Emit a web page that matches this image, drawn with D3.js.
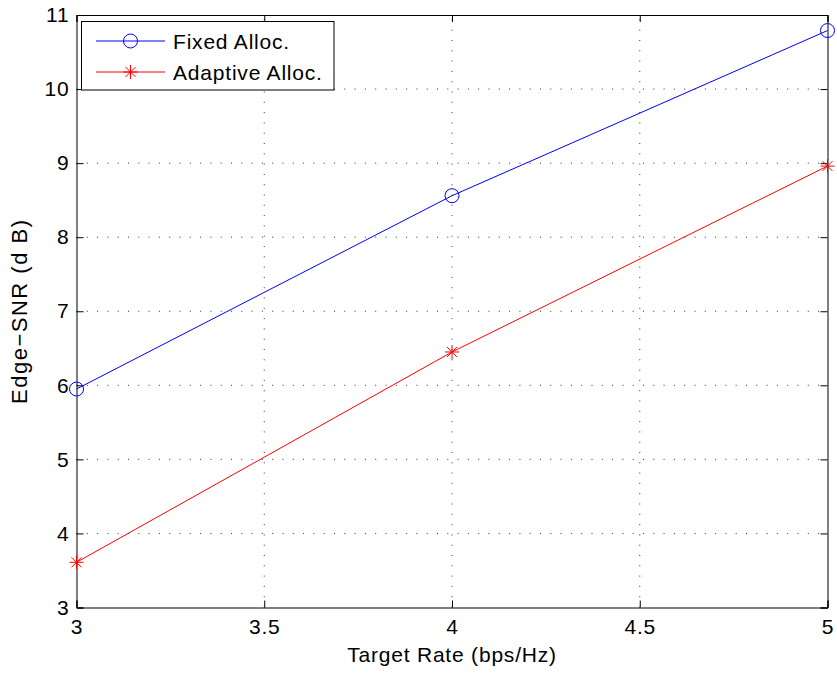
<!DOCTYPE html>
<html><head><meta charset="utf-8">
<script src="https://cdn.jsdelivr.net/npm/d3@7"></script>
<style>body{margin:0;background:#fff}text{font-family:"Liberation Sans",Arial,sans-serif;}</style>
</head><body>
<script>
const xValues = [3, 4, 5];
const fixedAlloc = [5.95, 8.56, 10.79];
const adaptiveAlloc = [3.61, 6.45, 8.96];
const xTicks = [3, 3.5, 4, 4.5, 5];
const yTicks = [3, 4, 5, 6, 7, 8, 9, 10, 11];
const seriesNames = ["Fixed Alloc.", "Adaptive Alloc."];

const W = 837, H = 675;
const L = 76.5, R = 827.5, T = 15, B = 607.5;
const FS = 21, LS = 0.8;
const svg = d3.select("body").append("svg").attr("width", W).attr("height", H);
const x = d3.scaleLinear().domain([3, 5]).range([L, R]);
const y = d3.scaleLinear().domain([3, 11]).range([B, T]);

// grid
const g = svg.append("g");
g.selectAll(".gx").data(xTicks.slice(1, -1)).enter().append("line")
  .attr("x1", d => x(d)).attr("x2", d => x(d)).attr("y1", B).attr("y2", T)
  .attr("stroke", "#000").attr("stroke-width", 1).attr("stroke-dasharray", "1,9.3").attr("opacity", 0.8);
g.selectAll(".gy").data(yTicks.slice(1, -1)).enter().append("line")
  .attr("y1", d => y(d)).attr("y2", d => y(d)).attr("x1", L).attr("x2", R)
  .attr("stroke", "#000").attr("stroke-width", 1).attr("stroke-dasharray", "1,9.3").attr("opacity", 0.8);

// axes
const tl = 7;
const fmt = d => String(d);
svg.append("g").attr("transform", `translate(0,${B})`)
  .call(d3.axisBottom(x).tickValues(xTicks).tickSize(-tl).tickPadding(12).tickFormat(fmt));
svg.append("g").attr("transform", `translate(0,${T})`)
  .call(d3.axisTop(x).tickValues(xTicks).tickSize(-tl).tickFormat(""));
svg.append("g").attr("transform", `translate(${L},0)`)
  .call(d3.axisLeft(y).tickValues(yTicks).tickSize(-tl).tickPadding(7).tickFormat(fmt));
svg.append("g").attr("transform", `translate(${R},0)`)
  .call(d3.axisRight(y).tickValues(yTicks).tickSize(-tl).tickFormat(""));
svg.selectAll(".domain").attr("stroke", "#000").attr("stroke-width", 1);
svg.selectAll(".tick line").attr("stroke", "#000");
svg.selectAll(".tick text").attr("font-size", FS).attr("fill", "#000").attr("letter-spacing", LS)
  .attr("font-family", '"Liberation Sans",Arial,sans-serif');

// lines
const line = d3.line().x((d, i) => x(xValues[i])).y(d => y(d));
svg.append("path").datum(fixedAlloc).attr("d", line).attr("fill", "none").attr("stroke", "#0000ff").attr("stroke-width", 1);
svg.append("path").datum(adaptiveAlloc).attr("d", line).attr("fill", "none").attr("stroke", "#ff0000").attr("stroke-width", 1);

function circleMarker(sel, cx, cy) {
  sel.append("circle").attr("cx", cx).attr("cy", cy).attr("r", 7)
    .attr("fill", "none").attr("stroke", "#0000ff").attr("stroke-width", 1);
}
function starMarker(sel, cx, cy) {
  const r = 7, d = r * 0.7071;
  const p = `M${cx - r},${cy}L${cx + r},${cy}M${cx},${cy - r}L${cx},${cy + r}M${cx - d},${cy - d}L${cx + d},${cy + d}M${cx - d},${cy + d}L${cx + d},${cy - d}`;
  sel.append("path").attr("d", p).attr("stroke", "#ff0000").attr("stroke-width", 1).attr("fill", "none");
}
fixedAlloc.forEach((v, i) => circleMarker(svg, x(xValues[i]), y(v)));
adaptiveAlloc.forEach((v, i) => starMarker(svg, x(xValues[i]), y(v)));

// labels
svg.append("text").attr("x", (L + R) / 2).attr("y", 662).attr("text-anchor", "middle")
  .attr("font-size", FS).attr("letter-spacing", LS).text("Target Rate (bps/Hz)");
svg.append("text").attr("transform", `translate(27,${(T + B) / 2}) rotate(-90)`).attr("text-anchor", "middle")
  .attr("font-size", 22).attr("letter-spacing", 1.5).text("Edge\u2212SNR (d B)");

// legend
const lg = svg.append("g");
lg.append("rect").attr("x", 81.5).attr("y", 21.5).attr("width", 252.5).attr("height", 68.5)
  .attr("fill", "#fff").attr("stroke", "#000").attr("stroke-width", 1);
const ly = [41, 72];
const colors = ["#0000ff", "#ff0000"];
seriesNames.forEach((n, i) => {
  lg.append("line").attr("x1", 96).attr("x2", 165).attr("y1", ly[i]).attr("y2", ly[i])
    .attr("stroke", colors[i]).attr("stroke-width", 1);
  if (i === 0) circleMarker(lg, 130.5, ly[i]); else starMarker(lg, 130.5, ly[i]);
  lg.append("text").attr("x", 173).attr("y", ly[i] + 7.5).attr("font-size", FS).attr("letter-spacing", LS).text(n);
});
</script>
</body></html>
